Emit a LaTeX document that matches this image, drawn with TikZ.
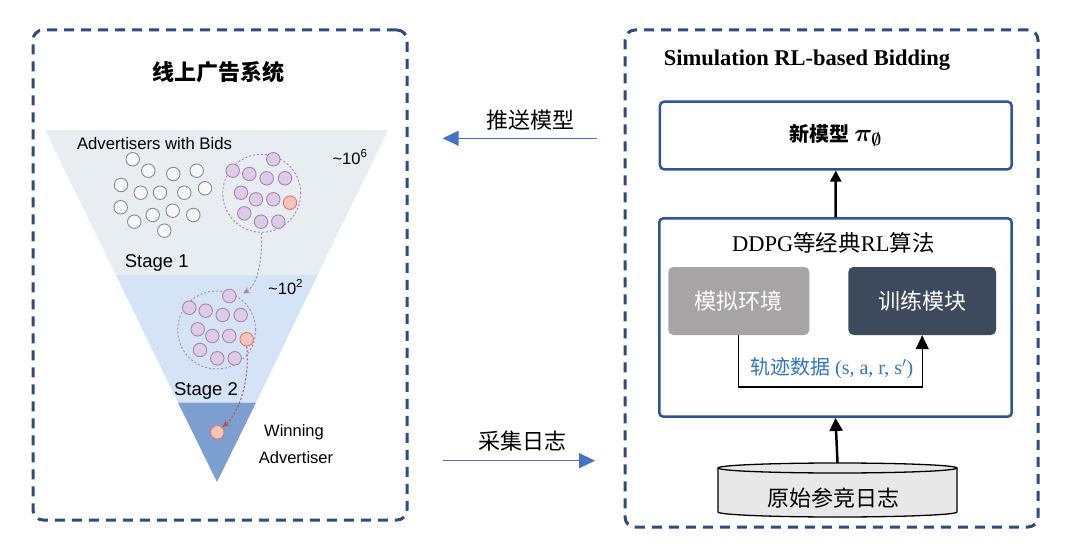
\documentclass[tikz,border=0pt]{standalone}
\usepackage{amsmath,amssymb}
\usepackage{fontspec}
\setmainfont{Liberation Serif}
\newfontfamily\cjk{Noto Sans CJK SC}
\newfontfamily\arialf{Liberation Sans}
\usetikzlibrary{arrows.meta,calc}
\newcommand\myfs[1]{\fontsize{#1}{#1}\selectfont}
\definecolor{frameblue}{HTML}{2E4C80}
\definecolor{boxblue}{HTML}{2F5597}
\definecolor{arrblue}{HTML}{4472C4}
\definecolor{stA}{HTML}{E8EDF2}
\definecolor{stB}{HTML}{D4E3F6}
\definecolor{stC}{HTML}{7D9FD0}
\definecolor{pfill}{HTML}{DCCCE6}
\definecolor{pdraw}{HTML}{A584BC}
\definecolor{rfill}{HTML}{F8C4BC}
\definecolor{rdraw}{HTML}{E07468}
\definecolor{gfill}{HTML}{F7F7F7}
\definecolor{gdraw}{HTML}{8A8A8A}
\definecolor{simgray}{HTML}{A6A4A4}
\definecolor{traindark}{HTML}{3D4A5E}
\definecolor{datablue}{HTML}{2E75C6}
\definecolor{dbfill}{HTML}{E8E8E8}
\definecolor{redarr}{HTML}{B0505A}
\begin{document}
\begin{tikzpicture}[x=1pt,y=-1pt,
  frm/.style={draw=frameblue, line width=3pt, dash pattern=on 10pt off 7pt, rounded corners=10pt, inner sep=0pt},
  bluebox/.style={draw=boxblue, line width=2.5pt, rounded corners=4pt, inner sep=0pt},
  simbox/.style={fill=simgray, rounded corners=5pt, text=white, inner sep=0pt, minimum width=141pt, minimum height=68pt},
  trainbox/.style={fill=traindark, rounded corners=5pt, text=white, inner sep=0pt, minimum width=147.7pt, minimum height=68pt},
  gcirc/.style={circle, draw=gdraw, fill=gfill, line width=0.9pt, minimum size=13.5pt, inner sep=0pt},
  pcirc/.style={gcirc, draw=pdraw, fill=pfill},
  rcirc/.style={gcirc, draw=rdraw, fill=rfill},
  grpcirc/.style={circle, draw=pdraw, line width=0.9pt, dash pattern=on 2pt off 2pt, minimum size=78pt, inner sep=0pt},
  blkarrow/.style={line width=2.5pt, -{Triangle[length=13pt,width=13pt]}},
  bluearrow/.style={draw=arrblue, line width=1.5pt, -{Triangle[length=16pt,width=15pt]}},
  lbl/.style={font=\cjk\myfs{22}, inner sep=0pt},
  sanslbl/.style={font=\arialf\myfs{16.5}, inner sep=0pt}
]
\useasboundingbox[fill=white] (0,0) rectangle (1080,559);

% frames
\node[frm, minimum width=374pt, minimum height=490pt] (lframe) at (220,275) {};
\node[frm, minimum width=413pt, minimum height=497pt] (rframe) at (831.5,278.5) {};

% funnel
\fill[stA] (45,130) -- (388,130) -- (317.6,275) -- (116,275) -- cycle;
\fill[stB] (116,275) -- (317.6,275) -- (256,402.7) -- (178,402.7) -- cycle;
\fill[stC] (178,402.7) -- (256,402.7) -- (217,482) -- cycle;

% left title and labels
\node[font=\cjk\bfseries\myfs{22}, inner sep=0pt] (ltitle) at (218.5,71.7) {线上广告系统};
\node[font=\arialf\myfs{16.7}, inner sep=0pt] (adv) at (154.5,144) {Advertisers with Bids};
\node[font=\arialf\myfs{16.5}, inner sep=0pt] (e6) at (350,157) {\textasciitilde10\textsuperscript{6}};
\node[font=\arialf\myfs{18.5}, inner sep=0pt] (s1) at (156.7,263) {Stage 1};
\node[font=\arialf\myfs{16.5}, inner sep=0pt] (e2) at (285.7,287) {\textasciitilde10\textsuperscript{2}};
\node[font=\arialf\myfs{18.5}, inner sep=0pt] (s2) at (206,391) {Stage 2};
\node[sanslbl] (win1) at (294,432) {Winning};
\node[sanslbl] (win2) at (296,458) {Advertiser};

% gray circles
\foreach \i/\x/\y in {1/132.7/159.3, 2/148.3/170.7, 3/173.3/174, 4/196.7/170.7,
  5/121/185, 6/140.7/192.7, 7/160/192.7, 8/184.3/192.7, 9/205/188.3,
  10/120.7/207.3, 11/134.3/221.7, 12/152.7/215, 13/172.7/210.7, 14/193.3/215, 15/164.3/230.7}
  \node[gcirc] (g\i) at (\x,\y) {};

% group 1
\node[grpcirc] (grp1) at (261.7,193.3) {};
\foreach \i/\x/\y in {1/273.3/159.3, 2/232.7/170.7, 3/249.3/174, 4/266.7/178.3, 5/285/178.3,
  6/241/192.7, 7/256/199.3, 8/273.3/199.3, 9/244.3/213.3, 10/261/221.7, 11/278.3/221.7}
  \node[pcirc] (a\i) at (\x,\y) {};
\node[rcirc] (ar) at (290,202.7) {};

% group 2
\node[grpcirc] (grp2) at (216.7,330) {};
\foreach \i/\x/\y in {1/229.3/296, 2/189.3/307.7, 3/205.7/310.7, 4/222.7/315, 5/240.7/315,
  6/197.7/329.3, 7/212.3/336, 8/229.3/336, 9/200/350, 10/217.3/358.3, 11/234.7/358.3}
  \node[pcirc] (b\i) at (\x,\y) {};
\node[rcirc] (br) at (246.7,339.3) {};

% winner
\node[rcirc] (w) at (217.3,432.3) {};

% dashed flow arrows
\coordinate (tip1) at (243,293.5);
\draw[pdraw, line width=1pt, dash pattern=on 2pt off 2pt, -{Stealth[length=7pt,width=6pt]}]
  (grp1.south) .. controls (262,265) and (257,285) .. (tip1);
\draw[redarr, line width=1pt, dash pattern=on 2pt off 2pt, -{Stealth[length=7pt,width=6pt]}]
  (br.south) .. controls (250,378) and (240,412) .. (w.north east);

% middle arrows
\coordinate (pushR) at (597,138.3);
\coordinate (pushL) at (442.7,138.3);
\draw[bluearrow] (pushR) -- (pushL);
\node[lbl] (pushlbl) at (530,119.7) {推送模型};
\coordinate (colL) at (443.3,460.7);
\coordinate (colR) at (595,460.7);
\draw[bluearrow] (colL) -- (colR);
\node[lbl] (collbl) at (522.5,440.8) {采集日志};

% right side
\node[font=\bfseries\myfs{22.5}, inner sep=0pt] (rtitle) at (807,60) {Simulation RL-based Bidding};
\node[bluebox, minimum width=351.7pt, minimum height=67.6pt, font=\cjk\bfseries\myfs{20}] (newm) at (835.8,135.5) {新模型 {\myfs{27}\boldmath$\pi_{\emptyset}$}};
\node[bluebox, minimum width=352.4pt, minimum height=198.4pt] (algo) at (835.5,317.5) {};
\node[font=\myfs{22.5}, inner sep=0pt] (algot) at (833.3,243.3) {DDPG{\cjk 等经典}RL{\cjk 算法}};
\node[simbox, font=\cjk\myfs{22}] (sim) at (738.8,301) {模拟环境};
\node[trainbox, font=\cjk\myfs{22}] (train) at (922.2,301) {训练模块};
\draw[line width=1.3pt, -{Triangle[length=14pt,width=13pt]}] (sim.south) -- ++(0,51.7) -| (train.south);
\node[text=datablue, font=\myfs{20}, inner sep=0pt] (traj) at (831.7,368.3) {{\cjk 轨迹数据} (s, a, r, s$'$)};

% database cylinder
\draw[line width=1.3pt, fill=dbfill] (718,468) -- (718,512) arc[start angle=180, end angle=0, x radius=119.5, y radius=5] -- (957,468);
\draw[line width=1.3pt, fill=dbfill] (837.5,468) ellipse [x radius=119.5, y radius=5];
\node[minimum width=239pt, minimum height=54pt, inner sep=0pt] (db) at (837.5,490) {};
\node[font=\cjk\myfs{22}, inner sep=0pt] (dbt) at (833.3,498) {原始参竞日志};

\draw[line width=2.5pt, -{Triangle[length=11pt,width=11pt]}] (algo.north) -- (newm.south);
\draw[blkarrow] (db.north) -- (algo.south);
\end{tikzpicture}
\end{document}
